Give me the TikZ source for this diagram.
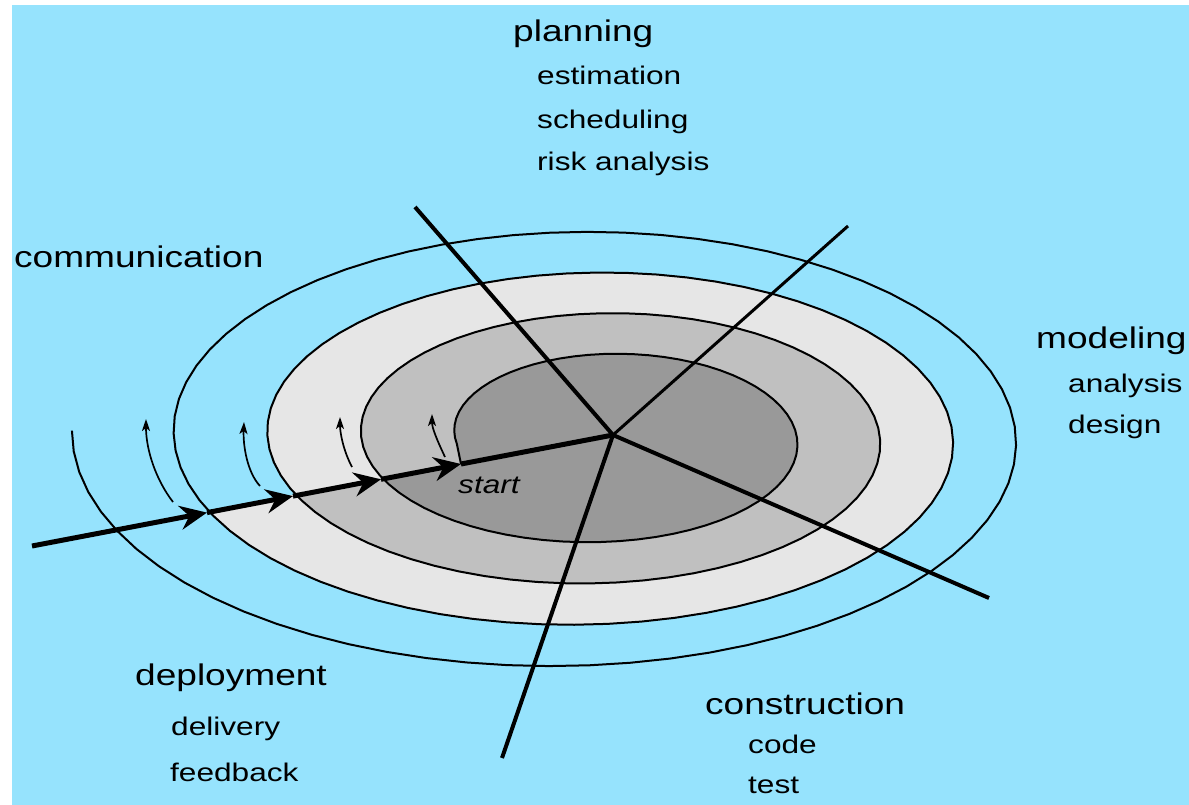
\documentclass[tikz,border=0pt]{standalone}
\usepackage{fontspec}
\setmainfont{Liberation Sans}
\usetikzlibrary{arrows.meta}
\definecolor{bgblue}{RGB}{150,227,253}
\definecolor{gdark}{RGB}{153,153,153}
\definecolor{gmid}{RGB}{192,192,192}
\definecolor{glight}{RGB}{230,230,230}
\newcommand{\hstr}[1]{\scalebox{1.24}[1]{#1}}
\begin{document}
\begin{tikzpicture}[x=1bp,y=-1bp,
  declare function={
    Lf(\s)=455-0.260278*\s-8*max(0,(\s-1080)/360);
    Uf(\s)=(\s-180)/360;
    Rf(\s)=797+88*Uf(\s)-5*Uf(\s)*Uf(\s);
    Tf(\s)=354-0.113*(\s-90);
    Bf(\s)=542+0.1148*(\s-270);
    sx(\s)=(Lf(\s)+Rf(\s))/2-(Rf(\s)-Lf(\s))/2*cos(\s);
    sy(\s)=(Tf(\s)+Bf(\s))/2-(Bf(\s)-Tf(\s))/2*sin(\s);
  },
  spiralline/.style={line width=2bp, line join=round},
  radial/.style={line width=4bp},
  startln/.style={line width=5bp},
  bigtip/.style={line width=5bp, -{Stealth[length=27bp,width=24bp,inset=9bp]}},
  smallarrow/.style={line width=1.7bp, -{Stealth[length=12bp,width=8bp,inset=3bp]}},
  bigtxt/.style={anchor=base west, inner sep=0pt, font=\fontsize{30}{36}\selectfont},
  smalltxt/.style={anchor=base west, inner sep=0pt, font=\fontsize{25.6}{30}\selectfont}
]
\useasboundingbox (0,0) rectangle (1189,805);
\fill[white] (0,0) rectangle (1189,805);
\fill[bgblue] (12,5) rectangle (1189,805);

% key points
\coordinate (C) at (613,435);
\coordinate (A) at (32,546);
\coordinate (X1) at (207,512.6);
\coordinate (X2) at (293,496.1);
\coordinate (X3) at (381,479.3);
\coordinate (X4) at (461,464);
\coordinate (Pl) at (415,207);
\coordinate (Mo) at (848,226);
\coordinate (Co) at (989,598);
\coordinate (De) at (502,758);

% filled bands
\fill[glight] plot[domain=698.5:1058, samples=73] ({sx(\x)},{sy(\x)}) -- cycle;
\fill[gmid] plot[domain=339:698.5, samples=73] ({sx(\x)},{sy(\x)}) -- cycle;
\fill[gdark] (X4) -- plot[domain=-5:339, samples=70] ({sx(\x)},{sy(\x)}) -- cycle;

% spiral
\draw[spiralline] (X4) -- plot[domain=-5:1442, samples=290] ({sx(\x)},{sy(\x)});

% small curved arrows
\coordinate (a1s) at (445,457); \coordinate (a1e) at (432,414);
\coordinate (a2s) at (352,467); \coordinate (a2e) at (340,417);
\coordinate (a3s) at (260,486); \coordinate (a3e) at (244,422);
\coordinate (a4s) at (173,502); \coordinate (a4e) at (146,419);
\draw[smallarrow] (a1s) .. controls (437,440) and (432,428) .. (a1e);
\draw[smallarrow] (a2s) .. controls (343,450) and (340,432) .. (a2e);
\draw[smallarrow] (a3s) .. controls (247,472) and (243,445) .. (a3e);
\draw[smallarrow] (a4s) .. controls (156,480) and (146,450) .. (a4e);

% radial lines
\draw[radial] (C) -- (Pl);
\draw[line width=3bp] (C) -- (Mo);
\draw[radial] (C) -- (Co);
\draw[radial] (C) -- (De);

% start line with arrowheads
\draw[bigtip] (A) -- (X1);
\draw[bigtip] (X1) -- (X2);
\draw[bigtip] (X2) -- (X3);
\draw[bigtip] (X3) -- (X4);
\draw[startln] (X4) -- (C);

% labels
\node[bigtxt] (tpl) at (513,42) {\hstr{planning}};
\node[smalltxt] (tes) at (537,85) {\hstr{estimation}};
\node[smalltxt] (tsc) at (537,128) {\hstr{scheduling}};
\node[smalltxt] (tri) at (537,170) {\hstr{risk analysis}};
\node[bigtxt] (tcm) at (14,267) {\hstr{communication}};
\node[bigtxt] (tmo) at (1036,348) {\hstr{modeling}};
\node[smalltxt] (tan) at (1068,392) {\hstr{analysis}};
\node[smalltxt] (tde) at (1068,433) {\hstr{design}};
\node[bigtxt] (tdp) at (135,685) {\hstr{deployment}};
\node[smalltxt] (tdl) at (171,735) {\hstr{delivery}};
\node[smalltxt] (tfb) at (170,781) {\hstr{feedback}};
\node[bigtxt] (tco) at (705,714) {\hstr{construction}};
\node[smalltxt] (tcd) at (748,753) {\hstr{code}};
\node[smalltxt] (tts) at (748,793) {\hstr{test}};
\node[smalltxt] (tst) at (458,493) {\hstr{\itshape start}};
\end{tikzpicture}
\end{document}
